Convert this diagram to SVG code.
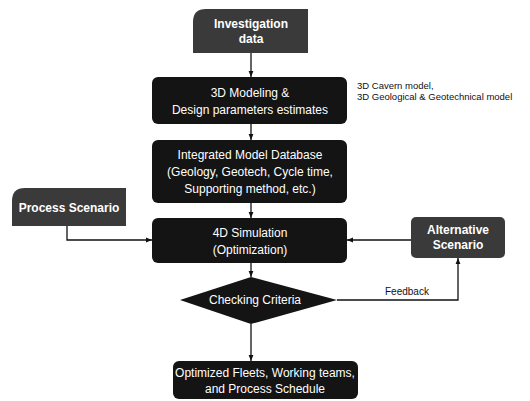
<svg xmlns="http://www.w3.org/2000/svg" width="530" height="401" viewBox="0 0 530 401">
<style>
.box{fill:#141414;}
.scen{fill:#3a3a3a;}
.t{font-family:"Liberation Sans",Arial,sans-serif;font-size:12px;fill:#fff;text-anchor:middle;}
.tb{font-family:"Liberation Sans",Arial,sans-serif;font-size:12px;font-weight:bold;fill:#fff;text-anchor:middle;}
.side{font-family:"Liberation Sans",Arial,sans-serif;font-size:9.5px;fill:#111;}
.ln{fill:none;stroke:#111;stroke-width:1.3;}
</style>
<defs>
<marker id="ah" viewBox="0 0 10 10" refX="10" refY="5" markerWidth="6" markerHeight="6" orient="auto" markerUnits="userSpaceOnUse">
<path d="M0,1 L10,5 L0,9 z" fill="#111"/>
</marker>
</defs>
<rect width="530" height="401" fill="#fff"/>
<g id="connectors">
<line class="ln" x1="251" y1="53" x2="251" y2="77" marker-end="url(#ah)"/>
<line class="ln" x1="251" y1="124" x2="251" y2="140" marker-end="url(#ah)"/>
<line class="ln" x1="251" y1="203" x2="251" y2="218" marker-end="url(#ah)"/>
<polyline class="ln" points="67,226 67,240 152,240" marker-end="url(#ah)"/>
<line class="ln" x1="411" y1="240" x2="347" y2="240" marker-end="url(#ah)"/>
<line class="ln" x1="251" y1="263" x2="251" y2="277" marker-end="url(#ah)"/>
<polyline class="ln" points="337,300 458,300 458,258" marker-end="url(#ah)"/>
<line class="ln" x1="251" y1="324" x2="251" y2="361" marker-end="url(#ah)"/>
<text class="side" x="385" y="295" style="font-size:10px">Feedback</text>
</g>
<g id="investigation">
<path class="scen" d="M193,53 L193,22 Q193,9 206,9 L308,9 L308,53 Z"/>
<text class="tb" x="251" y="28">Investigation</text>
<text class="tb" x="251" y="43">data</text>
</g>
<g id="modeling">
<rect class="box" x="152" y="77" width="195" height="47" rx="6"/>
<text class="t" x="250" y="97">3D Modeling &amp;</text>
<text class="t" x="250" y="114">Design parameters estimates</text>
<text class="side" x="357" y="89">3D Cavern model,</text>
<text class="side" x="357" y="100">3D Geological &amp; Geotechnical model</text>
</g>
<g id="database">
<rect class="box" x="152" y="140" width="195" height="63" rx="6"/>
<text class="t" x="250" y="159">Integrated Model Database</text>
<text class="t" x="250" y="176">(Geology, Geotech, Cycle time,</text>
<text class="t" x="250" y="193">Supporting method, etc.)</text>
</g>
<g id="process">
<path class="scen" d="M12,226 L12,201 Q12,188 25,188 L126,188 L126,226 Z"/>
<text class="tb" x="69" y="212">Process Scenario</text>
</g>
<g id="simulation">
<rect class="box" x="152" y="218" width="195" height="45" rx="6"/>
<text class="t" x="250" y="237">4D Simulation</text>
<text class="t" x="250" y="254">(Optimization)</text>
</g>
<g id="alternative">
<rect class="scen" x="411" y="217" width="94" height="41" rx="5"/>
<text class="tb" x="458" y="234">Alternative</text>
<text class="tb" x="458" y="249">Scenario</text>
</g>
<g id="checking">
<polygon class="box" points="180,300 251,277 337,300 251,324"/>
<text class="t" x="255" y="304">Checking Criteria</text>
</g>
<g id="result">
<rect class="box" x="173" y="361" width="185" height="38" rx="6"/>
<text class="t" x="265" y="377">Optimized Fleets, Working teams,</text>
<text class="t" x="265" y="393">and Process Schedule</text>
</g>
</svg>
